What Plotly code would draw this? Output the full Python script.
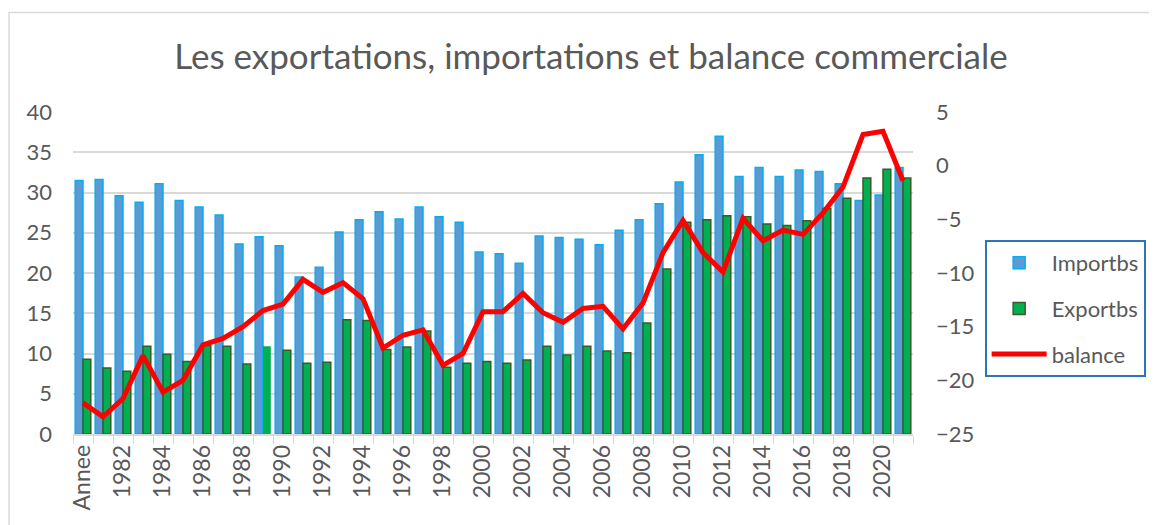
import plotly.graph_objects as go

years = ["Annee"] + [str(y) for y in range(1981, 2022)]

importbs = [31.5, 31.6, 29.6, 28.8, 31.1, 29.0, 28.2, 27.2, 23.6, 24.5,
            23.4, 19.5, 20.7, 25.1, 26.6, 27.6, 26.7, 28.2, 27.0, 26.3,
            22.6, 22.4, 21.2, 24.6, 24.4, 24.2, 23.5, 25.3, 26.6, 28.6,
            31.3, 34.7, 37.0, 32.0, 33.1, 32.0, 32.8, 32.6, 31.1, 29.0,
            29.7, 33.1]

exportbs = [9.3, 8.2, 7.8, 10.9, 9.9, 9.0, 11.0, 10.9, 8.7, 10.9,
            10.4, 8.8, 8.9, 14.2, 14.1, 10.5, 10.8, 12.8, 8.3, 8.8,
            9.0, 8.8, 9.2, 10.9, 9.8, 10.9, 10.3, 10.1, 13.8, 20.5,
            26.3, 26.6, 27.1, 27.0, 26.1, 25.9, 26.5, 28.0, 29.3, 31.8,
            32.9, 31.8]

balance = [-22.1, -23.4, -21.7, -17.7, -21.1, -20.0, -16.7, -16.1, -15.0, -13.5,
           -12.9, -10.6, -11.8, -10.9, -12.4, -17.0, -15.8, -15.3, -18.6, -17.5,
           -13.6, -13.6, -11.9, -13.7, -14.6, -13.3, -13.1, -15.2, -12.8, -8.1,
           -5.1, -8.1, -9.9, -4.9, -7.0, -6.0, -6.4, -4.4, -2.0, 2.9,
           3.2, -1.4]

tick_text = [c if i % 2 == 0 else "" for i, c in enumerate(years)]

FONT = "Lato"
GREY = "#595959"

# one export bar (1989) is drawn without outline in the original
exp_line_w = [0 if c == "1989" else 1.5 for c in years]

fig = go.Figure()
fig.add_trace(go.Bar(
    x=years, y=importbs, name="Importbs", legendgroup="a",
    marker=dict(color="#5B9BD5", line=dict(color="#00B0F0", width=1.5)),
))
fig.add_trace(go.Bar(
    x=years, y=exportbs, name="Exportbs", legendgroup="b",
    marker=dict(color="#00B050", line=dict(color="#3A5A2A", width=exp_line_w)),
))
fig.add_trace(go.Scatter(
    x=years, y=balance, name="balance", legendgroup="c", yaxis="y2",
    mode="lines", line=dict(color="#FF0000", width=5),
))

fig.update_layout(
    width=1149, height=517,
    margin=dict(l=65, r=243, t=104, b=91),
    paper_bgcolor="white", plot_bgcolor="white",
    font=dict(family=FONT, color=GREY, size=22),
    title=dict(
        text="Les exportations, importations et balance commerciale",
        font=dict(family=FONT, size=35, color=GREY),
        x=0.5074, xanchor="center", xref="container",
        y=0.905, yanchor="middle",
    ),
    barmode="group", bargap=0.22, bargroupgap=0.0,
    xaxis=dict(
        type="category", categoryorder="array", categoryarray=years,
        tickmode="array", tickvals=years, ticktext=tick_text,
        tickangle=-90, tickson="boundaries",
        ticks="outside", ticklen=8, tickcolor="#D9D9D9",
        showline=True, linecolor="#D9D9D9", linewidth=1.5,
        showgrid=False, tickfont=dict(size=23, color=GREY),
    ),
    yaxis=dict(
        range=[0, 40], dtick=5, tick0=0,
        showgrid=True, gridcolor="#D9D9D9", gridwidth=1.5,
        zeroline=False, ticks="", ticklabelstandoff=20,
        tickfont=dict(size=22, color=GREY),
    ),
    yaxis2=dict(
        range=[-25, 5], dtick=5, tick0=-25,
        overlaying="y", side="right", showgrid=False, zeroline=False,
        ticks="", ticklabelstandoff=22,
        tickfont=dict(size=22, color=GREY),
    ),
    legend=dict(
        x=1.084, xanchor="left", y=0.6025, yanchor="top",
        bordercolor="#2E75B6", borderwidth=2, bgcolor="white",
        font=dict(size=22, color=GREY),
        traceorder="grouped", tracegroupgap=14, itemwidth=55,
    ),
    shapes=[dict(
        type="rect", xref="paper", yref="paper",
        x0=-0.0761, x1=1.6, y0=-0.6, y1=1.309,
        line=dict(color="#D9D9D9", width=1.5), fillcolor="rgba(0,0,0,0)",
        layer="below",
    )],
)

fig.write_html("out.html")
